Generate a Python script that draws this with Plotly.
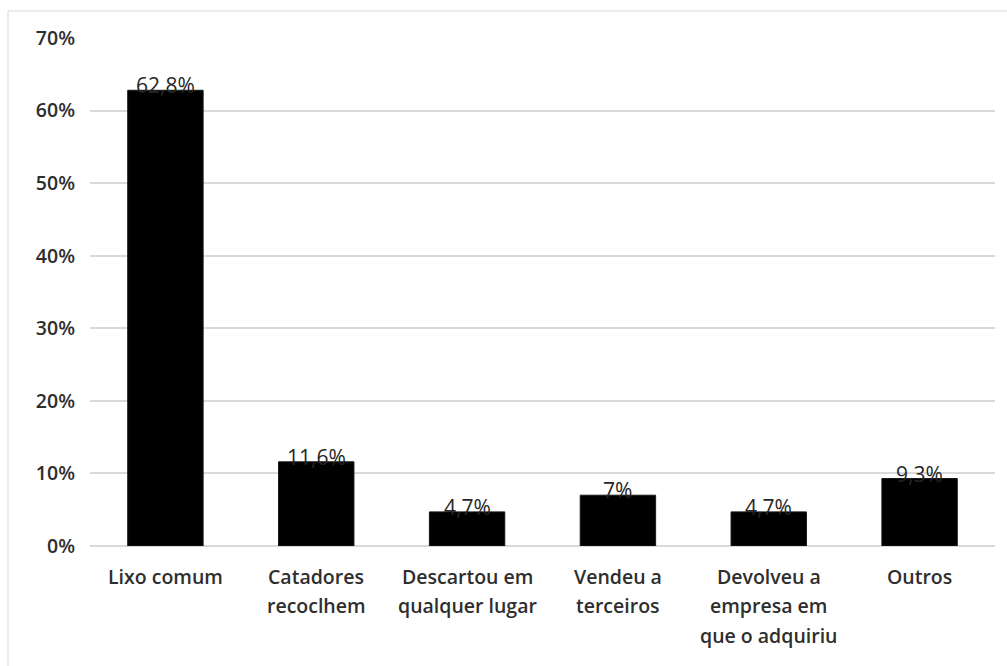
import plotly.graph_objects as go

# Destino dado ao resíduo (percentual de respostas)
categorias = [
    "Lixo comum",
    "Catadores<br>recoclhem",
    "Descartou em<br>qualquer lugar",
    "Vendeu a<br>terceiros",
    "Devolveu a<br>empresa em<br>que o adquiriu",
    "Outros",
]
rotulos_valor = ["62,8%", "11,6%", "4,7%", "7%", "4,7%", "9,3%"]
percentuais = [62.8, 11.6, 4.7, 7.0, 4.7, 9.3]
ticks_y = [0, 10, 20, 30, 40, 50, 60, 70]
ticks_y_texto = [f"{t}%" for t in ticks_y]

TEXT = "#2e2e2e"
GRID = "#d9d9d9"
FONT = "Open Sans"

fig = go.Figure(
    go.Bar(
        x=list(range(len(categorias))),
        y=percentuais,
        marker=dict(color="#000000", line=dict(color="#1a1a1a", width=1)),
        width=0.5,
        hoverinfo="skip",
    )
)

annotations = []
# value labels sitting on top of each bar
for i, (v, lab) in enumerate(zip(percentuais, rotulos_valor)):
    annotations.append(dict(
        x=i, y=v, xref="x", yref="y", text=lab, showarrow=False,
        yanchor="middle", yshift=5,
        font=dict(family=FONT, size=21, color="#262626"),
    ))
# category labels, one annotation per line for wider line spacing
for i, cat in enumerate(categorias):
    for j, line in enumerate(cat.split("<br>")):
        annotations.append(dict(
            x=i, y=0, xref="x", yref="y", text=line, showarrow=False,
            yanchor="middle", yshift=-30 - 29.5 * j,
            font=dict(family=FONT, size=19.5, color=TEXT, weight=600),
        ))

fig.update_layout(
    width=1007, height=666,
    margin=dict(l=90, r=12, t=38, b=120),
    paper_bgcolor="white", plot_bgcolor="white",
    showlegend=False,
    bargap=0.5,
    xaxis=dict(
        range=[-0.5, len(categorias) - 0.5],
        showticklabels=False, showgrid=False, zeroline=False,
        showline=False, fixedrange=True,
    ),
    yaxis=dict(
        range=[0, 70], tickvals=ticks_y, ticktext=ticks_y_texto,
        showgrid=True, gridcolor=GRID, gridwidth=1.5,
        zeroline=True, zerolinecolor=GRID, zerolinewidth=1.5,
        showline=False, ticks="", ticklabelstandoff=14,
        tickfont=dict(family=FONT, size=19.5, color=TEXT, weight=600),
    ),
    annotations=annotations,
    shapes=[dict(
        type="rect", xref="paper", yref="paper",
        x0=-0.0906, x1=1.03, y0=-0.25, y1=1.0531,
        line=dict(color="#d9d9d9", width=1), layer="below",
    )],
)

fig.write_html("out.html")
